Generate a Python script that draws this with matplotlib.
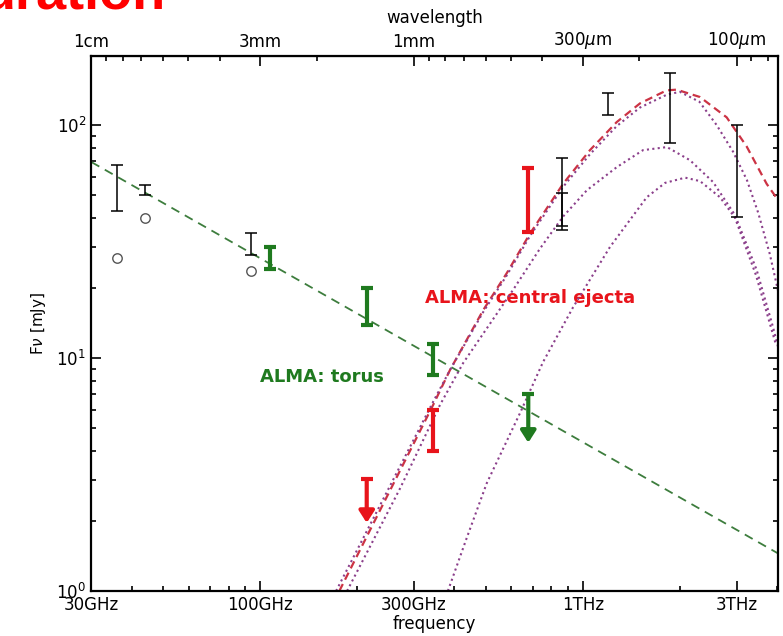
import numpy as np
import matplotlib
matplotlib.use('Agg')
import matplotlib.pyplot as plt
from matplotlib.ticker import FixedLocator, LogLocator, NullFormatter

# frequencies in GHz, flux densities in mJy
black_freq = [36, 44, 94, 861, 861, 1200, 1870, 3000]
black_lo = [42.9, 49.9, 27.7, 36.9, 35.4, 110.4, 83.5, 40.4]
black_hi = [67.3, 55.3, 34.4, 72.0, 50.9, 136.8, 166.7, 100.0]

circle_freq = [36, 44, 94]
circle_flux = [26.9, 39.8, 23.6]

torus_freq = [107, 214, 344]
torus_lo = [24.1, 13.9, 8.45]
torus_hi = [30.0, 19.9, 11.5]
torus_lim_freq = [678]
torus_lim_top = [7.0]
torus_lim_tip = [4.33]

ejecta_freq = [344, 678]
ejecta_lo = [4.0, 34.9]
ejecta_hi = [5.98, 65.2]
ejecta_lim_freq = [214]
ejecta_lim_top = [3.02]
ejecta_lim_tip = [1.96]

# synchrotron power law (end points)
sync_freq = [30, 4030]
sync_flux = [69.4, 1.45]

# dust model curves
total_freq = [176, 344, 388, 492, 581, 687, 871, 1053, 1274, 1505, 1820, 1955,
              2310, 2794, 3222, 3716, 4030]
total_flux = [1.0, 6.3, 8.9, 16.1, 23.1, 34.3, 56.2, 78.1, 103, 124, 141, 142,
              132, 108, 81, 56, 47.7]

dust_a_freq = [172, 344, 388, 492, 581, 687, 871, 1053, 1274, 1505, 1820, 2000,
               2300, 2602, 2923, 3230, 3500, 3800, 4030]
dust_a_flux = [1.0, 6.5, 8.9, 15.8, 22.6, 33.5, 54.5, 75, 99, 119, 135, 139,
               126, 100, 77, 58, 42, 28, 19.5]

dust_b_freq = [186, 272, 361, 426, 608, 737, 869, 1031, 1275, 1538, 1825, 2150,
               2535, 2965, 3461, 3888, 4030]
dust_b_flux = [1.0, 2.77, 6.29, 9.52, 19.6, 29.5, 40.5, 52.6, 66, 78.1, 80.5, 70.7,
               57, 41.1, 23.9, 13.6, 11.2]

dust_c_freq = [382, 437, 504, 639, 753, 933, 1215, 1579, 1800, 2078, 2310, 2665,
               2965, 3444, 3972]
dust_c_flux = [1.0, 1.69, 2.9, 5.8, 9.6, 16.5, 30, 49, 56.5, 59.5, 57.5, 49,
               40, 22.7, 11.4]

freq_ticks = [30, 100, 300, 1000, 3000]
freq_labels = ['30GHz', '100GHz', '300GHz', '1THz', '3THz']
wave_ticks_mm = [10, 3, 1, 0.3, 0.1]
wave_labels = ['1cm', '3mm', '1mm', r'300$\mu$m', r'100$\mu$m']

GREEN = '#1f7a1f'
RED = '#e8141b'
PURPLE = '#8b3f8b'


def ghz_to_mm(f):
    with np.errstate(divide='ignore'):
        return 299.792458 / np.asarray(f, dtype=float)


def draw_bars(ax, freq, lo, hi, color, lw, cap):
    lo = np.array(lo)
    hi = np.array(hi)
    ax.errorbar(freq, lo, yerr=[np.zeros_like(lo), hi - lo], fmt='none',
                ecolor=color, elinewidth=lw, capsize=cap, capthick=lw, zorder=4)


def draw_limits(ax, freq, top, tip, color):
    for f, t, b in zip(freq, top, tip):
        ax.annotate('', xy=(f, b), xytext=(f, t),
                    arrowprops=dict(arrowstyle='-|>,head_length=0.7,head_width=0.45',
                                    mutation_scale=10, lw=3, color=color,
                                    shrinkA=0, shrinkB=0), zorder=4)
    ax.plot(freq, top, ls='none', marker='_', ms=9, mew=3, color=color, zorder=4)


plt.rcParams['font.family'] = 'DejaVu Sans'
fig = plt.figure(figsize=(7.83, 6.36), dpi=100)
ax = fig.add_axes([0.1162, 0.0708, 0.8774, 0.8411])
ax.set_xscale('log')
ax.set_yscale('log')
ax.set_xlim(29.9, 4030)
ax.set_ylim(1, 198)

ax.plot(sync_freq, sync_flux, color='#3d7d3d', lw=1.3, ls=(0, (5, 3.5)), zorder=2)
ax.plot(total_freq, total_flux, color='#cc3344', lw=1.6, ls=(0, (3.5, 2.2)), zorder=2)
for fr, fl in [(dust_a_freq, dust_a_flux), (dust_b_freq, dust_b_flux),
               (dust_c_freq, dust_c_flux)]:
    ax.plot(fr, fl, color=PURPLE, lw=1.5, ls=(0, (1, 1.6)), zorder=2)

draw_bars(ax, black_freq, black_lo, black_hi, 'black', 1.1, 4.5)
ax.plot(circle_freq, circle_flux, ls='none', marker='o', ms=6.8, mfc='white',
        mec='#555555', mew=1.0, zorder=4)
draw_bars(ax, torus_freq, torus_lo, torus_hi, GREEN, 3, 4.3)
draw_bars(ax, ejecta_freq, ejecta_lo, ejecta_hi, RED, 3, 4.3)
draw_limits(ax, torus_lim_freq, torus_lim_top, torus_lim_tip, GREEN)
draw_limits(ax, ejecta_lim_freq, ejecta_lim_top, ejecta_lim_tip, RED)

ax.text(156, 8.3, 'ALMA: torus', color=GREEN, fontsize=13, fontweight='bold',
        ha='center', va='center', zorder=1)
ax.text(687, 18.1, 'ALMA: central ejecta', color=RED, fontsize=13,
        fontweight='bold', ha='center', va='center', zorder=1)

ax.xaxis.set_major_locator(FixedLocator(freq_ticks))
ax.set_xticklabels(freq_labels)
ax.xaxis.set_minor_locator(LogLocator(base=10, subs=np.arange(2, 10)))
ax.xaxis.set_minor_formatter(NullFormatter())
ax.tick_params(which='both', direction='in', right=True, top=False, labelsize=12,
               width=1.2)
ax.tick_params(which='major', length=7)
ax.tick_params(which='minor', length=3.5)
ax.set_xlabel('frequency', fontsize=12, labelpad=1)
ax.set_ylabel(r'F$\nu$ [mJy]', fontsize=11, labelpad=6)
for sp in ax.spines.values():
    sp.set_linewidth(1.6)

secax = ax.secondary_xaxis('top', functions=(ghz_to_mm, ghz_to_mm))
secax.set_ticks(wave_ticks_mm, wave_labels)
secax.tick_params(which='both', direction='in', labelsize=12, width=1.2)
secax.tick_params(which='major', length=7)
secax.tick_params(which='minor', length=3.5)
secax.set_xlabel('wavelength', fontsize=12, labelpad=5)

# clipped slide title above the plot
fig.text(-17 / 783, 1 - 8.5 / 636, 'uration', color='red', fontsize=39,
         fontweight='bold', family='Liberation Sans', va='baseline', ha='left')

fig.savefig('out.png', dpi=100)
